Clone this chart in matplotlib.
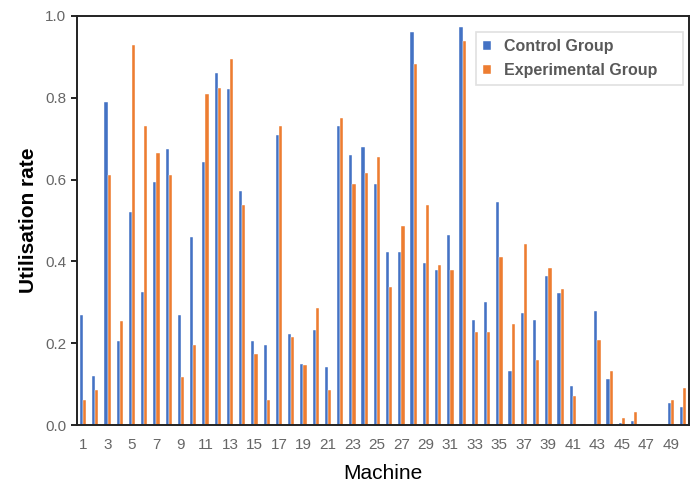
import matplotlib.pyplot as plt
import numpy as np

plt.rcParams['font.family'] = ['Liberation Sans', 'DejaVu Sans']

machines = list(range(1, 51))
control = [0.27, 0.12, 0.79, 0.205, 0.52, 0.325, 0.595, 0.675, 0.27, 0.46,
           0.643, 0.86, 0.822, 0.573, 0.205, 0.195, 0.71, 0.222, 0.15, 0.233,
           0.142, 0.73, 0.66, 0.68, 0.588, 0.424, 0.422, 0.96, 0.395, 0.38,
           0.465, 0.972, 0.257, 0.30, 0.545, 0.133, 0.275, 0.256, 0.364, 0.322,
           0.096, 0.003, 0.279, 0.112, 0.004, 0.011, 0.0, 0.0, 0.053, 0.045]
experimental = [0.062, 0.085, 0.61, 0.255, 0.93, 0.73, 0.665, 0.61, 0.118, 0.195,
                0.81, 0.823, 0.895, 0.537, 0.173, 0.06, 0.73, 0.215, 0.147, 0.285,
                0.086, 0.75, 0.588, 0.615, 0.655, 0.337, 0.487, 0.882, 0.537, 0.39,
                0.38, 0.938, 0.228, 0.228, 0.41, 0.248, 0.442, 0.16, 0.383, 0.333,
                0.071, 0.0, 0.208, 0.132, 0.016, 0.031, 0.0, 0.0, 0.061, 0.091]
xtick_labels = [str(m) for m in machines[::2]]

x = np.array(machines)
w = 0.26

fig = plt.figure(figsize=(6.99, 4.83), dpi=100)
ax = fig.add_axes([0.110, 0.120, 0.876, 0.847])

ax.bar(x - w / 2, control, w, color='#4472C4', edgecolor='white', linewidth=0.3,
       label='Control Group')
ax.bar(x + w / 2, experimental, w, color='#ED7D31', edgecolor='white', linewidth=0.3,
       label='Experimental Group')

ax.set_xlim(0.5, 50.5)
ax.set_ylim(0, 1.0)
ax.set_xticks(machines[::2])
ax.set_xticklabels(xtick_labels)
ax.set_yticks(np.arange(0, 1.01, 0.2))
ax.set_yticklabels([f"{v:.1f}" for v in np.arange(0, 1.01, 0.2)])

ax.tick_params(axis='x', length=0, labelsize=11, labelcolor='#666666', pad=9)
ax.tick_params(axis='y', length=4, width=1.2, labelsize=11, labelcolor='#666666')

for s in ax.spines.values():
    s.set_linewidth(1.4)
    s.set_color('#222222')

ax.set_xlabel('Machine', fontsize=15, labelpad=9)
ax.set_ylabel('Utilisation rate', fontsize=15, fontweight='bold', labelpad=5)

leg = ax.legend(loc='upper left', bbox_to_anchor=(0.652, 0.836, 0.338, 0.125),
                mode='expand', borderaxespad=0, frameon=True,
                fancybox=False, edgecolor='#d9d9d9', handlelength=0.5,
                handleheight=0.5, handletextpad=0.8, borderpad=0.45,
                labelspacing=0.55, prop={'weight': 'bold', 'size': 11.5})
leg.get_frame().set_linewidth(1.2)
for t in leg.get_texts():
    t.set_color('#595959')

fig.savefig('out.png', dpi=100)
